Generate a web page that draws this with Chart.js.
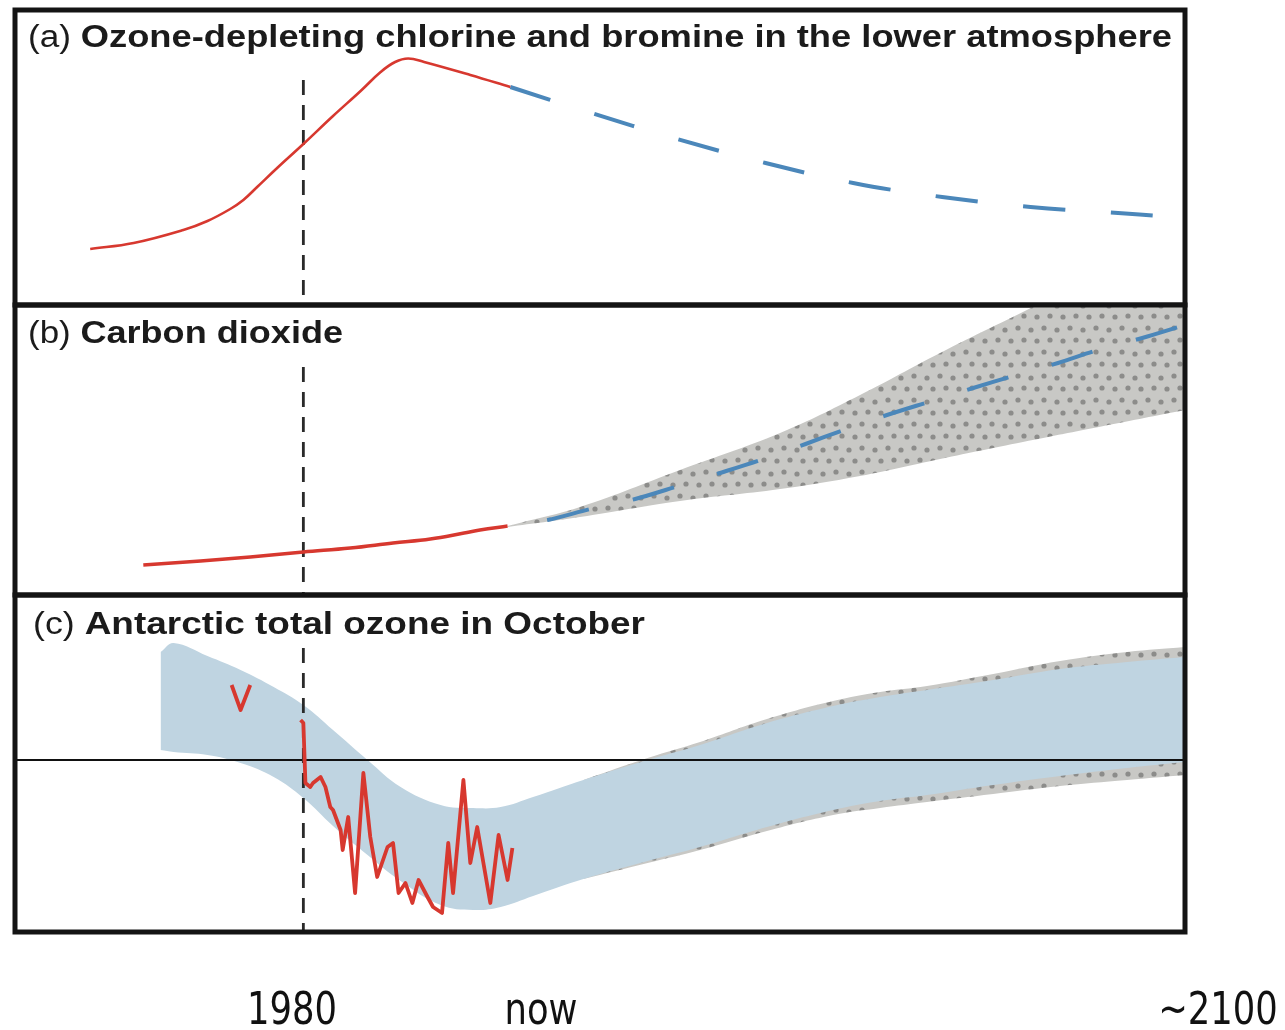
<!DOCTYPE html>
<html>
<head>
<meta charset="utf-8">
<title>Ozone, chlorine and CO2</title>
<script src="https://cdn.jsdelivr.net/npm/chart.js@4.4.0/dist/chart.umd.min.js"></script>
<style>
  html, body { margin: 0; padding: 0; background: #fff; }
  #figure { position: relative; width: 1285px; height: 1030px; overflow: hidden; }
  #figure canvas { position: absolute; left: 0; }
</style>
</head>
<body>
<div id="figure">
  <canvas id="panel-a" width="1285" height="310" style="top:0px"></canvas>
  <canvas id="panel-b" width="1285" height="300" style="top:300px"></canvas>
  <canvas id="panel-c" width="1285" height="440" style="top:590px"></canvas>
</div>
<script>
// ---------------- data (years, relative levels) ----------------
const XMIN = 1938.2, XMAX = 2107.8;
const markerYear = 1980;
const periodLabels = ['1980', 'now', '~2100'];

// (a) chlorine + bromine
const chlorineYears = [1949.1, 1955.4, 1962.6, 1966.1, 1969.4, 1971.3, 1973.3, 1976.2, 1980.0, 1984.3, 1988.3, 1991.2, 1993.3, 1995.2, 1997.5, 2004.2, 2010.0];
const chlorineObs = [56, 62, 75, 84, 96, 105, 118, 137, 161, 189, 214, 233, 243, 246.5, 243, 230, 218];
const chlorineProjYears = [2010.0, 2021.3, 2034.2, 2047.0, 2059.7, 2072.6, 2085.4, 2098.1, 2104.3];
const chlorineProj = [218, 193, 166, 142, 122, 108, 98, 92, 89];

// (b) carbon dioxide
const co2Years = [1956.8, 1965.1, 1972.3, 1980.0, 1986.8, 1993.0, 1998.4, 2003.3, 2005.6, 2009.6];
const co2Obs = [30, 34, 38, 43, 47, 52, 56, 62, 65, 69];
const co2ProjYears = [2009.6, 2015.4, 2021.6, 2028.1, 2033.9, 2040.4, 2046.7, 2052.8, 2058.3, 2064.6, 2070.6, 2077.1, 2082.9, 2089.4, 2095.2, 2101.6, 2107.8];
const co2Proj = [69, 75, 86, 96, 108, 122, 136, 151, 165, 180, 193, 207, 219, 232, 245, 257, 270];
const co2RangeYears = [2009.6, 2020.1, 2034.6, 2049.1, 2060.7, 2072.3, 2084.3, 2096.0, 2107.8];
const co2High = [69, 88, 125, 162, 200, 242, 283, 322, 364];
const co2Low = [68, 78, 94, 106, 119, 136, 153, 169, 185];

// (c) Antarctic October ozone
const ozoneBandYears = [1959.3, 1961.2, 1966.1, 1970.9, 1975.7, 1980.0, 1984.3, 1989.3, 1994.1, 1999.9, 2004.6, 2008.6, 2013.3, 2020.6, 2029.9, 2037.5, 2047.2, 2056.8, 2063.6, 2070.4, 2080.0, 2089.7, 2099.4, 2107.8];
const ozoneBandHigh = [280, 289, 276, 262, 245, 227, 202, 172, 145, 127, 124, 125, 135, 152, 172, 187, 209, 226, 235, 242, 252, 263, 270, 275];
const ozoneBandLow = [182, 180, 177, 169, 155, 134, 106, 77, 51, 27, 22, 25, 36, 53, 71, 85, 105, 122, 131, 137, 147, 156, 164, 170];
const ozoneRangeYears = [2020.6, 2029.9, 2037.5, 2047.2, 2056.8, 2063.6, 2070.4, 2080.0, 2089.7, 2099.4, 2107.8];
const ozoneRangeHigh = [152, 174, 190, 213, 231, 240, 246, 258, 271, 280, 285];
const ozoneRangeLow = [53, 69, 82, 101, 117, 124, 130, 138, 146, 152, 157];
const ozoneObsYears = [1979.6, 1980.0, 1980.3, 1981.0, 1981.4, 1982.5, 1983.2, 1983.9, 1984.3, 1985.4, 1985.7, 1986.5, 1987.5, 1988.7, 1989.7, 1990.7, 1992.2, 1993.0, 1993.8, 1994.8, 1995.8, 1996.7, 1998.0, 1998.8, 2000.1, 2001.0, 2001.7, 2003.2, 2004.2, 2005.2, 2007.1, 2008.3, 2009.6, 2010.3];
const ozoneObs = [212, 209, 149, 145, 149, 155, 145, 125, 122, 102, 82, 115, 39, 159, 95, 55, 85, 89, 39, 49, 29, 52, 35, 25, 19, 89, 39, 152, 69, 105, 29, 97, 52, 84];
const ozoneEarlyYears = [1969.6, 1970.9, 1972.3];
const ozoneEarly = [247, 222, 247];
const ozoneRefLevel = 172;

// top of the dashed 1980 marker in each panel
const markerTops = [225, 228, 284];

// ---------------- styling ----------------
const RED = '#d7382f';
const BLUE_LINE = '#4b87ba';
const BAND_BLUE = '#bfd4e1';
const TITLE_FONT = '"Liberation Sans", Arial, Helvetica, sans-serif';
const LABEL_FONT = '"Liberation Sans Narrow", "DejaVu Sans Condensed", Arial, sans-serif';
const NONE = 'rgba(0,0,0,0)';

function toPoints(xs, ys) {
    return xs.map((x, i) => ({x: x, y: ys[i]}));
}

// stipple used for the grey range of the projections
function makeStipple() {
    const tile = document.createElement('canvas');
    tile.width = 26; tile.height = 24;
    const t = tile.getContext('2d');
    t.fillStyle = '#c8c8c5';
    t.fillRect(0, 0, 26, 24);
    t.fillStyle = '#8c8c8a';
    [[4, 4], [17, 6], [10, 16], [23, 17]].forEach(([x, y]) => {
        t.beginPath(); t.arc(x, y, 2.6, 0, Math.PI * 2); t.fill();
    });
    return t.createPattern(tile, 'repeat');
}
const stipple = makeStipple();

// draws several text runs squeezed to a given total width
function drawFitted(ctx, parts, x, y, width) {
    let total = 0;
    parts.forEach(p => { ctx.font = p.font; total += ctx.measureText(p.text).width; });
    ctx.save();
    ctx.translate(x, y);
    ctx.scale(width / total, 1);
    ctx.fillStyle = '#1b1b1b';
    ctx.textBaseline = 'alphabetic';
    let cx = 0;
    parts.forEach(p => {
        ctx.font = p.font;
        ctx.fillText(p.text, cx, 0);
        cx += ctx.measureText(p.text).width;
    });
    ctx.restore();
}

const panelDecor = {
    id: 'panelDecor',
    afterDraw(chart, args, opts) {
        const {ctx, chartArea: a} = chart;
        ctx.save();
        ctx.lineWidth = 5;
        ctx.strokeStyle = '#141414';
        ctx.strokeRect(a.left, a.top, a.right - a.left, a.bottom - a.top);
        ctx.restore();
        drawFitted(ctx, [
            {text: opts.tag + ' ', font: '31px ' + TITLE_FONT},
            {text: opts.title, font: 'bold 32px ' + TITLE_FONT}
        ], opts.x, opts.y, opts.width);
    }
};

const periodAxis = {
    id: 'periodAxis',
    afterDraw(chart, args, opts) {
        if (!opts.show) return;
        const ctx = chart.ctx;
        ctx.save();
        ctx.font = '44px ' + LABEL_FONT;
        const squeeze = 90 / ctx.measureText(periodLabels[0]).width;
        ctx.fillStyle = '#111';
        ctx.textAlign = 'center';
        periodLabels.forEach((lab, i) => {
            ctx.save();
            ctx.translate(opts.centers[i], opts.baseline);
            ctx.scale(squeeze, 1);
            ctx.fillText(lab, 0, 0);
            ctx.restore();
        });
        ctx.restore();
    }
};

function markerLine(top) {
    return {
        data: toPoints([markerYear, markerYear], [top, 0]),
        borderColor: '#2a2a2a',
        borderWidth: 2.8,
        borderDash: [15, 10],
        pointRadius: 0,
        fill: false,
        order: 1
    };
}

function makePanel(id, yMax, padding, datasets, decor, axis) {
    const ctx = document.getElementById(id).getContext('2d');
    return new Chart(ctx, {
        type: 'line',
        data: {datasets: datasets},
        options: {
            responsive: false,
            animation: false,
            devicePixelRatio: 1,
            events: [],
            layout: {padding: padding},
            elements: {point: {radius: 0}, line: {borderCapStyle: 'butt', borderJoinStyle: 'round'}},
            scales: {
                x: {type: 'linear', min: XMIN, max: XMAX, display: false},
                y: {type: 'linear', min: 0, max: yMax, display: false}
            },
            plugins: {
                legend: {display: false},
                tooltip: {enabled: false},
                panelDecor: decor,
                periodAxis: axis || {show: false}
            }
        },
        plugins: [panelDecor, periodAxis]
    });
}

// ---------------- (a) ----------------
makePanel('panel-a', 295, {left: 15, right: 100, top: 10, bottom: 5}, [
    {data: toPoints(chlorineYears, chlorineObs), borderColor: RED, borderWidth: 2.6,
     tension: 0.4, fill: false, order: 0},
    {data: toPoints(chlorineProjYears, chlorineProj), borderColor: BLUE_LINE, borderWidth: 4,
     borderDash: [42, 46], tension: 0.4, fill: false, order: 0},
    markerLine(markerTops[0])
], {tag: '(a)', title: 'Ozone-depleting chlorine and bromine in the lower atmosphere', x: 28, y: 47, width: 1144});

// ---------------- (b) ----------------
makePanel('panel-b', 290, {left: 15, right: 100, top: 5, bottom: 5}, [
    {data: toPoints(co2Years, co2Obs), borderColor: RED, borderWidth: 3.5,
     tension: 0.4, fill: false, order: 0},
    {data: toPoints(co2ProjYears, co2Proj), borderColor: BLUE_LINE, borderWidth: 4,
     borderDash: [43, 45], borderDashOffset: 48, tension: 0.3, fill: false, order: 2},
    markerLine(markerTops[1]),
    {data: toPoints(co2RangeYears, co2High), borderColor: NONE, borderWidth: 0,
     backgroundColor: stipple, fill: '+1', tension: 0.4, order: 8},
    {data: toPoints(co2RangeYears, co2Low), borderColor: NONE, borderWidth: 0,
     fill: false, tension: 0.4, order: 8}
], {tag: '(b)', title: 'Carbon dioxide', x: 28, y: 43, width: 315});

// ---------------- (c) ----------------
makePanel('panel-c', 337, {left: 15, right: 100, top: 5, bottom: 98}, [
    {data: toPoints(ozoneObsYears, ozoneObs), borderColor: RED, borderWidth: 3.8, tension: 0, fill: false, order: 0},
    {data: toPoints(ozoneEarlyYears, ozoneEarly), borderColor: RED, borderWidth: 3.8, tension: 0, fill: false, order: 0},
    {data: toPoints([XMIN, XMAX], [ozoneRefLevel, ozoneRefLevel]), borderColor: '#111', borderWidth: 2, fill: false, order: 2},
    markerLine(markerTops[2]),
    {data: toPoints(ozoneBandYears, ozoneBandHigh), borderColor: NONE, borderWidth: 0,
     backgroundColor: BAND_BLUE, fill: '+1', tension: 0.4, order: 5},
    {data: toPoints(ozoneBandYears, ozoneBandLow), borderColor: NONE, borderWidth: 0,
     fill: false, tension: 0.4, order: 5},
    {data: toPoints(ozoneRangeYears, ozoneRangeHigh), borderColor: NONE, borderWidth: 0,
     backgroundColor: stipple, fill: '+1', tension: 0.4, order: 8},
    {data: toPoints(ozoneRangeYears, ozoneRangeLow), borderColor: NONE, borderWidth: 0,
     fill: false, tension: 0.4, order: 8}
], {tag: '(c)', title: 'Antarctic total ozone in October', x: 33, y: 44, width: 612},
   {show: true, centers: [292, 541, 1218], baseline: 434});
</script>
</body>
</html>
